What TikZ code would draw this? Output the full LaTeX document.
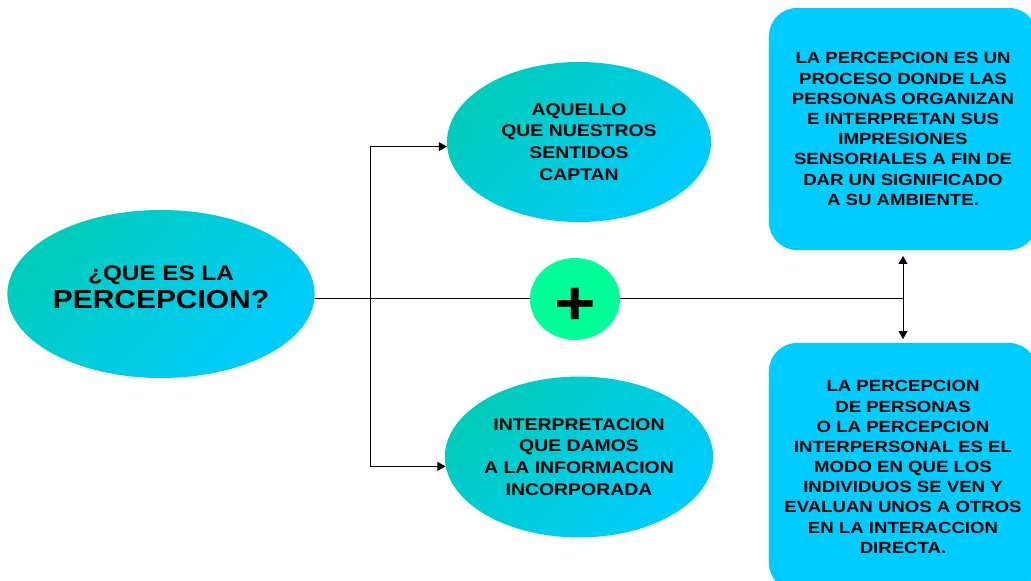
\documentclass[tikz,border=0pt]{standalone}
\usepackage{fontspec}
\setmainfont{Liberation Sans}[FakeStretch=1.15]
\usepackage{xcolor}
\usetikzlibrary{arrows.meta,shapes.geometric}

\definecolor{ovalteal}{RGB}{0,204,187}
\definecolor{ovalcyan}{RGB}{0,204,255}
\definecolor{boxcyan}{RGB}{0,204,255}
\definecolor{plusgreen}{RGB}{0,255,153}

\begin{document}
\begin{tikzpicture}[
    x=0.025cm, y=-0.025cm,
    oval/.style={ellipse, inner sep=0pt, align=center, top color=ovalteal, bottom color=ovalcyan, shading angle=45,
        font=\bfseries\fontsize{12}{15.4}\selectfont},
    defbox/.style={rounded corners=0.7cm, fill=boxcyan, minimum width=6.7cm, align=center,
        font=\bfseries\fontsize{11.5}{14.35}\selectfont},
    arr/.style={-{Triangle[length=2mm, width=2.2mm]}, line width=0.7pt},
]
    \path[use as bounding box, clip] (0,0) rectangle (1031,580);

    \node[oval, minimum width=7.68cm, minimum height=4.2cm] (main) at (161,294)
        {\fontsize{15}{18.4}\selectfont ¿QUE ES LA\\[3pt]\fontsize{18.5}{18.4}\selectfont PERCEPCION?\\[-6pt]\mbox{}};
    \node[oval, minimum width=6.6cm, minimum height=4cm] (sense) at (579,142)
        {AQUELLO\\QUE NUESTROS\\SENTIDOS\\CAPTAN};
    \node[oval, minimum width=6.6cm, minimum height=4.02cm] (interp) at (579,457)
        {INTERPRETACION\\QUE DAMOS\\A LA INFORMACION\\INCORPORADA};

    \node[defbox, minimum height=6.05cm] (def1) at (903,129)
        {LA PERCEPCION ES UN\\PROCESO DONDE LAS\\PERSONAS ORGANIZAN\\E INTERPRETAN SUS\\IMPRESIONES\\SENSORIALES A FIN DE\\DAR UN SIGNIFICADO\\A SU AMBIENTE.};
    \node[defbox, minimum height=6.2cm] (def2) at (903,467)
        {LA PERCEPCION\\DE PERSONAS\\O LA PERCEPCION\\INTERPERSONAL ES EL\\MODO EN QUE LOS\\INDIVIDUOS SE VEN Y\\EVALUAN UNOS A OTROS\\EN LA INTERACCION\\DIRECTA.};

    \coordinate (split) at (370,298);
    \coordinate (junc) at (903,298);

    \draw[line width=0.7pt] (main.east |- split) -- (split);
    \draw[arr] (split) |- (sense.182);
    \draw[arr] (split) |- (interp.184);
    \draw[line width=0.7pt] (split) -- (junc);
    \draw[arr, shorten >=4pt] (junc) -- (def1.south);
    \draw[arr, shorten >=2.5pt] (junc) -- (def2.north);

    \node[ellipse, fill=plusgreen, minimum width=2.25cm, minimum height=2.05cm, inner sep=0pt,
        text height=36pt, text depth=0pt, font=\bfseries\fontsize{44}{44}\selectfont] (plus) at (575,299) {+};
\end{tikzpicture}
\end{document}
